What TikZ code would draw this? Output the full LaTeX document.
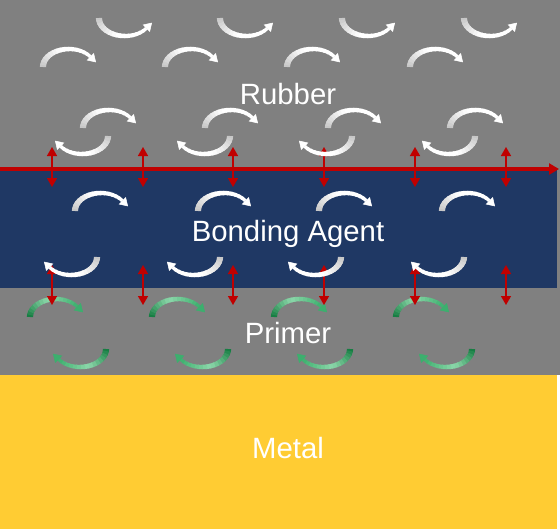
\documentclass[tikz,border=0pt]{standalone}
\usepackage{fontspec}
\setmainfont{Liberation Sans}
\usetikzlibrary{arrows.meta}

\definecolor{rubbergray}{RGB}{128,128,128}
\definecolor{agentblue}{RGB}{31,56,100}
\definecolor{metalyellow}{RGB}{255,204,51}
\definecolor{bondred}{RGB}{192,0,0}
\definecolor{swirlgray}{RGB}{195,195,195}
\definecolor{primerdark}{RGB}{16,120,60}
\definecolor{primerlight}{RGB}{140,215,170}
\definecolor{primermid}{RGB}{60,175,110}

\newcommand{\nseg}{16}
% 渐变弧形箭头：#1,#2 中心，#3 朝向（-1 上拱，1 下凹），#4 -> #5 角度，#6/#7/#8 颜色
\newcommand{\swirl}[8]{%
    \foreach \i in {1,...,\nseg} {
        \pgfmathsetmacro{\ta}{#4+(#5-(#4))*max(0,\i-1.3)/\nseg}
        \pgfmathsetmacro{\tb}{#4+(#5-(#4))*\i/\nseg}
        \pgfmathsetmacro{\lw}{4.6-2.2*(\i-1)/\nseg}
        \pgfmathtruncatemacro{\p}{200*(\i-0.5)/\nseg}
        \ifnum\p<100
            \colorlet{segcol}{#7!\p!#6}
        \else
            \pgfmathtruncatemacro{\q}{\p-100}
            \colorlet{segcol}{#8!\q!#7}
        \fi
        \draw[line width=\lw pt, segcol] plot[domain=\ta:\tb, samples=4]
            ({#1+26*cos(\x)}, {#2+(#3)*18*sin(\x)});
    }
    % 箭头
    \pgfmathsetmacro{\ex}{#1+26*cos(#5)}
    \pgfmathsetmacro{\ey}{#2+(#3)*18*sin(#5)}
    \pgfmathsetmacro{\dd}{sign(#5-(#4))}
    \pgfmathsetmacro{\ux}{-1*(\dd)*26*sin(#5)}
    \pgfmathsetmacro{\uy}{(\dd)*(#3)*18*cos(#5)}
    \pgfmathsetmacro{\nn}{veclen(\ux,\uy)}
    \coordinate (tail) at (\ex,\ey);
    \coordinate (head) at ({\ex+8*\ux/\nn},{\ey+8*\uy/\nn});
    \draw[swirltip, #8] (tail) -- (head);
}

\tikzset{
    swirltip/.style={line width=0.4pt, -{Triangle[length=6pt,width=7.5pt]}},
    bond/.style={draw=bondred, line width=1.1pt,
        {Triangle[length=6.75pt,width=7.5pt]}-{Triangle[length=6.75pt,width=7.5pt]}},
    interface/.style={draw=bondred, line width=3pt, -{Triangle[length=7.5pt,width=8.25pt]}},
    layertext/.style={text=white, anchor=base, inner sep=0pt,
        font=\fontsize{22pt}{26pt}\selectfont},
}

\begin{document}
\begin{tikzpicture}[
        x={(0.75pt,0)},
        y={(0,-0.75pt)},
    ]
    \useasboundingbox (0,0) rectangle (560,529);

    % ---- 各层 ----
    \fill[rubbergray] (0,0) rectangle (560,375);
    \fill[agentblue] (0,169) rectangle (557,288);
    \fill[metalyellow] (0,375) rectangle (557,529);

    % ---- 底漆层（绿色） ----
    \foreach \cx in {56,178,300,422}
        \swirl{\cx}{317}{-1}{180}{35}{primerdark}{primerlight}{primermid};
    \foreach \cx in {80,202,324,446}
        \swirl{\cx}{349}{1}{0}{145}{primerdark}{primerlight}{primermid};

    % ---- 界面上的双向箭头 ----
    \foreach \bx [count=\k] in {52,143,233,324,415,506} {
        \coordinate (ua\k) at (\bx,147);
        \coordinate (ub\k) at (\bx,187);
        \coordinate (la\k) at (\bx,265);
        \coordinate (lb\k) at (\bx,305);
        \draw[bond] (ua\k) -- (ub\k);
        \draw[bond] (la\k) -- (lb\k);
    }

    % ---- 橡胶层 ----
    \foreach \cx in {125,246,368,490}
        \swirl{\cx}{18}{1}{180}{35}{swirlgray}{white}{white};
    \foreach \cx in {69,191,313,436}
        \swirl{\cx}{67}{-1}{180}{35}{swirlgray}{white}{white};
    \foreach \cx in {109,231,354,476}
        \swirl{\cx}{128}{-1}{180}{35}{swirlgray}{white}{white};
    \foreach \cx in {82,204,326,449}
        \swirl{\cx}{136}{1}{0}{145}{swirlgray}{white}{white};

    % ---- 粘合剂层 ----
    \foreach \cx in {101,224,345,468}
        \swirl{\cx}{211}{-1}{180}{35}{swirlgray}{white}{white};
    \foreach \cx in {71,194,315,438}
        \swirl{\cx}{257}{1}{0}{145}{swirlgray}{white}{white};

    % ---- 红色界面线 ----
    \coordinate (lineL) at (0,169);
    \coordinate (lineR) at (559,169);
    \draw[interface] (lineL) -- (lineR);

    % 标签
    \node[layertext] (rubber) at (288,104) {Rubber};
    \node[layertext] (agent) at (288,241) {Bonding Agent};
    \node[layertext] (primer) at (288,343) {Primer};
    \node[layertext] (metal) at (288,458) {Metal};

\end{tikzpicture}
\end{document}
